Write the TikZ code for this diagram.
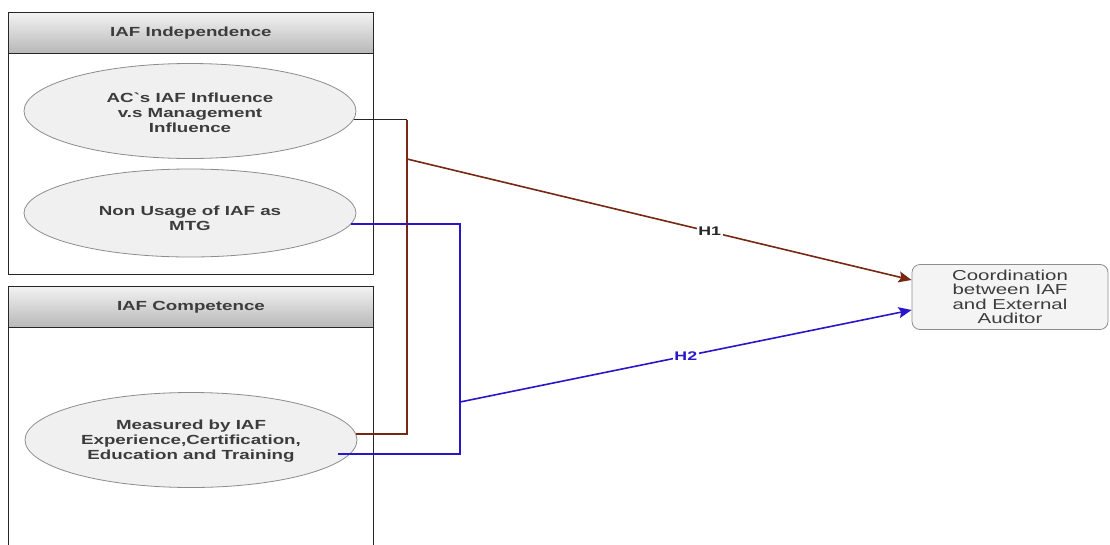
\documentclass[tikz,border=0pt]{standalone}
\usepackage{fontspec}
\setmainfont{Liberation Sans}[FakeStretch=1.42]
\setmonofont{Liberation Sans}[FakeStretch=1.42]
\usetikzlibrary{shapes.geometric,arrows.meta,calc}
\definecolor{brn}{RGB}{118,40,18}
\definecolor{blu}{RGB}{40,22,200}
\definecolor{txt}{RGB}{60,60,60}
\definecolor{ellfill}{RGB}{240,240,240}
\definecolor{ellline}{RGB}{140,140,140}
\definecolor{tgtfill}{RGB}{244,244,244}
\newcommand{\gravemark}{{\ttfamily `}}
\begin{document}
\begin{tikzpicture}[x=1pt,y=-1pt,
  container/.style={draw=black!85,line width=0.9pt,anchor=north west,minimum width=365pt,inner sep=0pt},
  header/.style={draw=black!85,line width=0.9pt,anchor=north west,minimum width=365pt,minimum height=41pt,inner sep=0pt,
     top color=black!5,bottom color=black!28,font=\bfseries\fontsize{13.2}{15}\selectfont,text=txt},
  ell/.style={ellipse,draw=ellline,fill=ellfill,line width=0.8pt,minimum width=332pt,inner sep=0pt,
     align=center,font=\bfseries\fontsize{13.2}{14.8}\selectfont,text=txt},
  tgt/.style={draw=ellline,fill=tgtfill,rounded corners=8pt,line width=0.8pt,minimum width=196pt,minimum height=65pt,
     align=center,inner sep=0pt,font=\fontsize{14.4}{14.5}\selectfont,text=txt},
  blkline/.style={draw=black!85,line width=1.4pt},
  brnline/.style={draw=brn,line width=1.6pt},
  bluline/.style={draw=blu,line width=1.6pt},
  arr/.style={-{Stealth[length=13pt,width=11pt,inset=2.5pt]}},
  lbl/.style={fill=white,inner sep=1.5pt,font=\bfseries\fontsize{12.5}{14}\selectfont}
]
\useasboundingbox (0,0) rectangle (1110,544);
\clip (0,0) rectangle (1110,544);

% containers
\node[container,minimum height=262pt] (indep) at (8,12) {};
\node[header] (indephead) at (8,12) {IAF Independence};
\node[container,minimum height=290pt] (comp) at (8,286) {};
\node[header] (comphead) at (8,286) {IAF Competence};

% ellipses
\node[ell,minimum height=95pt] (e1) at (190,111) {\rule{0pt}{13pt}AC\gravemark s IAF Influence\\v.s Management\\Influence};
\node[ell,minimum height=88pt] (e2) at (190,213) {\rule{0pt}{20pt}Non Usage of IAF as\\MTG};
\node[ell,minimum height=95pt] (e3) at (191,440) {\rule{0pt}{12pt}Measured by IAF\\Experience,Certification,\\Education and Training};

% target
\node[tgt] (tgt) at (1010,297) {Coordination\\between IAF\\and External\\Auditor};

% junction coordinates
\coordinate (rv) at (407,159);
\coordinate (bv) at (460,402);

% brown path (H1)
\draw[blkline] (e1.-3.5) -- (e1.-3.5 -| rv);
\draw[brnline] (e1.-3.5 -| rv) |- (e3.2.5);
\draw[brnline,arr,color=brn] (rv) -- node[lbl,pos=0.6,text=black!85] {H1} ($(tgt.west)+(0,-17)$);

% blue path (H2)
\draw[bluline] (e2.-4) -| (bv) |- ($(e3.-5.4)+(-12,0)$);
\draw[bluline,arr,color=blu] (bv) -- node[lbl,pos=0.5,text=blu] {H2} ($(tgt.west)+(0,13)$);
\end{tikzpicture}
\end{document}
